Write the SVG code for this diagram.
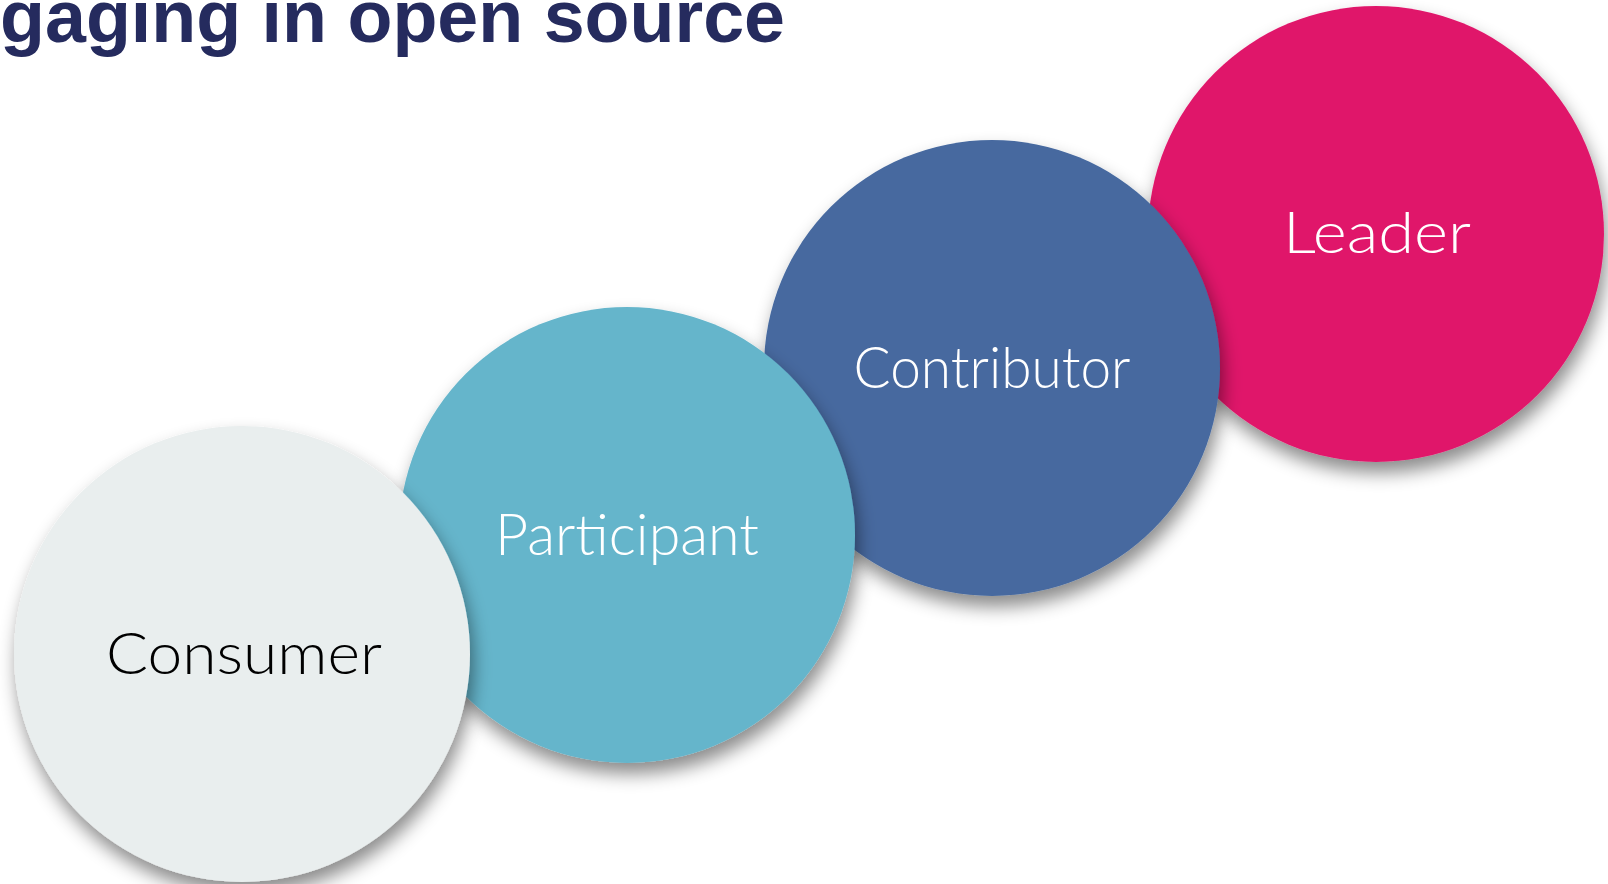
<svg xmlns="http://www.w3.org/2000/svg" width="1608" height="884" viewBox="0 0 1608 884">
<defs>
<filter id="sh" x="-20%" y="-20%" width="140%" height="145%">
<feDropShadow dx="3" dy="11" stdDeviation="9" flood-color="#000" flood-opacity="0.45"/>
</filter>
</defs>
<style>
.lbl{font-family:Lato,"Liberation Sans",sans-serif;font-weight:300;font-size:57px;text-anchor:middle}
.w{fill:#ffffff}
.title{font-family:"Liberation Sans",Arial,sans-serif;font-weight:bold;font-size:75px;fill:#252B5E}
</style>
<rect width="1608" height="884" fill="#ffffff"/>
<text class="title" x="0" y="42" textLength="785" lengthAdjust="spacingAndGlyphs">gaging in open source</text>
<g id="connectors"/>
<g id="leader">
<circle cx="1376" cy="234" r="228" fill="#E0176B" filter="url(#sh)"/>
<text class="lbl w" x="1377" y="253" textLength="188" lengthAdjust="spacingAndGlyphs">Leader</text>
</g>
<g id="contributor">
<circle cx="992" cy="368" r="228" fill="#46699F" filter="url(#sh)"/>
<text class="lbl w" x="992" y="388" textLength="277" lengthAdjust="spacingAndGlyphs">Contributor</text>
</g>
<g id="participant">
<circle cx="627" cy="535" r="228" fill="#65B5CB" filter="url(#sh)"/>
<text class="lbl w" x="627" y="555" textLength="264" lengthAdjust="spacingAndGlyphs">Participant</text>
</g>
<g id="consumer">
<circle cx="242" cy="654" r="228" fill="#E9EEEE" filter="url(#sh)"/>
<text class="lbl" x="244" y="674" fill="#000000" textLength="276" lengthAdjust="spacingAndGlyphs">Consumer</text>
</g>
</svg>
